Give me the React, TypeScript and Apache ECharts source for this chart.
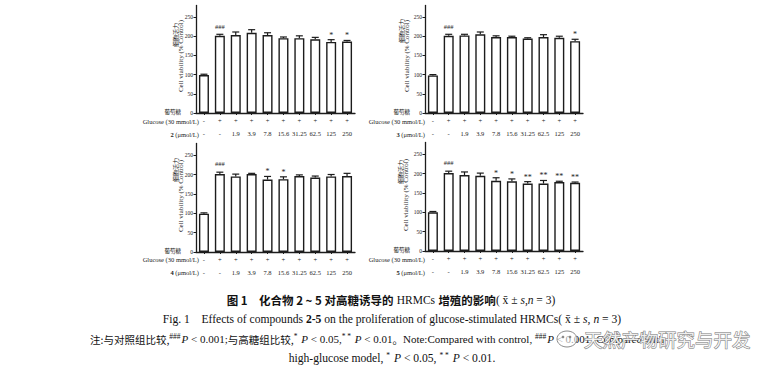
import React, { useEffect, useRef } from 'react';
import * as echarts from 'echarts';

const glucoseRow = ['-', '+', '+', '+', '+', '+', '+', '+', '+', '+'];
const concRow = ['-', '-', '1.9', '3.9', '7.8', '15.6', '31.25', '62.5', '125', '250'];
const yTicks = [0, 50, 100, 150, 200, 250];
const compounds = ['2', '3', '4', '5'];

const c2Mean = [99, 201, 203, 209, 203, 195, 195, 192, 185, 186];
const c2Sd = [2, 4, 8, 8, 6, 3, 6, 5, 6, 3];
const c2Sig = ['', '###', '', '', '', '', '', '', '*', '*'];

const c3Mean = [98, 201, 202, 205, 198, 198, 194, 198, 196, 187];
const c3Sd = [2, 4, 3, 6, 3, 2, 2, 6, 4, 5];
const c3Sig = ['', '###', '', '', '', '', '', '', '', '*'];

const c4Mean = [99, 201, 195, 201, 187, 188, 196, 192, 195, 196];
const c4Sd = [2, 5, 6, 2, 8, 6, 3, 4, 5, 7];
const c4Sig = ['', '###', '', '', '*', '*', '', '', '', ''];

const c5Mean = [100, 201, 196, 194, 181, 180, 174, 174, 178, 176];
const c5Sd = [2, 5, 8, 7, 8, 6, 5, 8, 2, 2];
const c5Sig = ['', '###', '', '', '*', '*', '**', '**', '**', '**'];

const means = [c2Mean, c3Mean, c4Mean, c5Mean];
const sds = [c2Sd, c3Sd, c4Sd, c5Sd];
const sigs = [c2Sig, c3Sig, c4Sig, c5Sig];

const SERIF = '"Liberation Serif", "Times New Roman", "Noto Sans CJK SC", serif';
const CJK = '"Noto Sans CJK SC", sans-serif';
const INK = '#1c1c1c';

// layout of the four panels
const grids = [
  { left: 196, top: 5.5, width: 159, height: 107.5 },
  { left: 425, top: 5.5, width: 158, height: 107.5 },
  { left: 196, top: 143.5, width: 159, height: 108.5 },
  { left: 425, top: 142.5, width: 158, height: 108.5 },
];
const yNamePos = [
  { cnX: 175, enX: 181, cnY: 35, enY: 56 },
  { cnX: 401, enX: 407, cnY: 31, enY: 56 },
  { cnX: 175, enX: 181, cnY: 170, enY: 196 },
  { cnX: 400, enX: 406, cnY: 172, enY: 195 },
];
const rowLabelPos = [
  { rx: 199, cnX: 181, z: 112, gy: 121, cy: 134 },
  { rx: 425, cnX: 410, z: 112, gy: 121, cy: 134 },
  { rx: 199, cnX: 181, z: 250.5, gy: 259, cy: 272 },
  { rx: 425, cnX: 410, z: 250, gy: 259, cy: 272 },
];

export default function App() {
  const ref = useRef<HTMLDivElement>(null);
  useEffect(() => {
    document.body.style.margin = '0';
    if (!ref.current) return;
    const chart = echarts.init(ref.current, undefined, { renderer: 'svg' });

    const xAxes: any[] = [];
    const yAxes: any[] = [];
    const series: any[] = [];
    const graphics: any[] = [];

    grids.forEach((g, i) => {
      xAxes.push({
        type: 'category',
        gridIndex: i,
        data: concRow,
        axisLine: { lineStyle: { color: INK, width: 1.3 } },
        axisTick: { show: true, alignWithLabel: true, length: 2, lineStyle: { color: INK, width: 1 } },
        axisLabel: {
          margin: 1,
          interval: 0,
          formatter: (_v: string, idx: number) => `{g|${glucoseRow[idx]}}\n{c|${concRow[idx]}}`,
          rich: {
            g: { fontSize: 6.5, lineHeight: 13, fontFamily: SERIF, color: INK },
            c: { fontSize: 6.5, lineHeight: 13, fontFamily: SERIF, color: INK },
          },
        },
      });
      yAxes.push({
        type: 'value',
        gridIndex: i,
        min: 0,
        max: 280,
        interval: 50,
        splitLine: { show: false },
        axisLine: { show: true, lineStyle: { color: INK, width: 1.3 } },
        axisTick: { show: true, length: 2.5, customValues: yTicks, lineStyle: { color: INK, width: 1 } },
        axisLabel: { customValues: yTicks, fontSize: 5.5, margin: 3, fontFamily: SERIF, color: INK },
      });
      series.push({
        type: 'bar',
        xAxisIndex: i,
        yAxisIndex: i,
        data: means[i],
        barWidth: 10,
        itemStyle: { color: '#fff', borderColor: INK, borderWidth: 1.4 },
        z: 2,
      });
      const sig = sigs[i];
      series.push({
        type: 'custom',
        xAxisIndex: i,
        yAxisIndex: i,
        z: 3,
        clip: false,
        data: means[i].map((m, j) => [j, m, m + sds[i][j]]),
        encode: { x: 0, y: [1, 2] },
        renderItem: (params: any, api: any) => {
          const x = api.value(0);
          const top = api.coord([x, api.value(1)]);
          const hi = api.coord([x, api.value(2)]);
          const s = sig[params.dataIndex];
          const children: any[] = [
            { type: 'line', shape: { x1: top[0], y1: top[1], x2: hi[0], y2: hi[1] }, style: { stroke: INK, lineWidth: 1.2 } },
            { type: 'line', shape: { x1: hi[0] - 3.5, y1: hi[1], x2: hi[0] + 3.5, y2: hi[1] }, style: { stroke: INK, lineWidth: 1.2 } },
          ];
          if (s) {
            const isHash = s.indexOf('#') >= 0;
            children.push({
              type: 'text',
              x: hi[0],
              y: hi[1] - (isHash ? 5 : 0.5),
              style: {
                text: s,
                fontSize: isHash ? 6.5 : 8,
                fontFamily: SERIF,
                fill: INK,
                align: 'center',
                verticalAlign: 'bottom',
              },
            });
          }
          return { type: 'group', children };
        },
      });

      const yn = yNamePos[i];
      graphics.push({
        type: 'text', x: yn.cnX, y: yn.cnY, rotation: Math.PI / 2,
        style: { text: '细胞活力', fontSize: 6, fontFamily: CJK, fill: INK, align: 'center', verticalAlign: 'middle' },
      });
      graphics.push({
        type: 'text', x: yn.enX, y: yn.enY, rotation: Math.PI / 2,
        style: { text: 'Cell viability (% Control)', fontSize: 7, fontFamily: SERIF, fill: INK, align: 'center', verticalAlign: 'middle' },
      });
      const rl = rowLabelPos[i];
      graphics.push({
        type: 'text', x: rl.cnX, y: rl.z,
        style: { text: '葡萄糖', fontSize: 5.5, fontFamily: CJK, fill: INK, align: 'right', verticalAlign: 'middle' },
      });
      graphics.push({
        type: 'text', x: rl.rx, y: rl.gy,
        style: { text: 'Glucose (30 mmol/L)', fontSize: 6.5, fontFamily: SERIF, fill: INK, align: 'right', verticalAlign: 'middle' },
      });
      graphics.push({
        type: 'text', x: rl.rx, y: rl.cy,
        style: {
          text: `{b|${compounds[i]}} (μmol/L)`,
          fontSize: 6.5, fontFamily: SERIF, fill: INK, align: 'right', verticalAlign: 'middle',
          rich: { b: { fontSize: 6.5, fontWeight: 'bold', fontFamily: SERIF, fill: INK } },
        },
      });
    });

    // captions
    graphics.push({
      type: 'text', x: 391, y: 300,
      style: {
        text: '{h|图 1　化合物 2 ~ 5 对高糖诱导的} {r|HRMCs} {h|增殖的影响}{r|(}{r| x̄ ± }{i|s}{r|,}{i|n}{r| = 3)}',
        align: 'center', verticalAlign: 'middle',
        rich: {
          h: { fontSize: 11.5, fontFamily: CJK, fontWeight: 'bold', fill: '#111' },
          r: { fontSize: 11.5, fontFamily: SERIF, fill: '#111' },
          i: { fontSize: 11.5, fontFamily: SERIF, fontStyle: 'italic', fill: '#111' },
        },
      },
    });
    graphics.push({
      type: 'text', x: 392, y: 319,
      style: {
        text: '{r|Fig. 1    Effects of compounds }{b|2-5}{r| on the proliferation of glucose-stimulated HRMCs( x̄ ± }{i|s}{r|, }{i|n}{r| = 3)}',
        align: 'center', verticalAlign: 'middle',
        rich: {
          r: { fontSize: 11.6, fontFamily: SERIF, fill: '#111' },
          b: { fontSize: 11.6, fontFamily: SERIF, fontWeight: 'bold', fill: '#111' },
          i: { fontSize: 11.6, fontFamily: SERIF, fontStyle: 'italic', fill: '#111' },
        },
      },
    });
    graphics.push({
      type: 'text', x: 90, y: 339,
      style: {
        text: '{c|注:与对照组比较,}{s|###}{i|P}{r| < 0.001;}{c|与高糖组比较,}{s|*}{i| P}{r| < 0.05,}{s|* *}{i| P}{r| < 0.01}{c|。}{r|Note:Compared with control, }{s|###}{i|P}{r| < 0.001; Compared with}',
        align: 'left', verticalAlign: 'middle',
        rich: {
          c: { fontSize: 10.5, fontFamily: CJK, fill: '#111' },
          r: { fontSize: 11, fontFamily: SERIF, fill: '#111' },
          i: { fontSize: 11, fontFamily: SERIF, fontStyle: 'italic', fill: '#111' },
          s: { fontSize: 7.5, fontFamily: SERIF, fill: '#111', padding: [0, 1, 5, 0] },
        },
      },
    });
    graphics.push({
      type: 'text', x: 392, y: 358,
      style: {
        text: '{r|high-glucose model, }{s|*}{i| P}{r| < 0.05, }{s|* *}{i| P}{r| < 0.01.}',
        align: 'center', verticalAlign: 'middle',
        rich: {
          r: { fontSize: 11.6, fontFamily: SERIF, fill: '#111' },
          i: { fontSize: 11.6, fontFamily: SERIF, fontStyle: 'italic', fill: '#111' },
          s: { fontSize: 7.5, fontFamily: SERIF, fill: '#111', padding: [0, 1, 5, 0] },
        },
      },
    });
    // watermark
    graphics.push({
      type: 'ellipse', shape: { cx: 567, cy: 339, rx: 10, ry: 8 },
      style: { fill: 'rgba(255,255,255,0.6)', stroke: '#8a8a8a', lineWidth: 1 }, z: 10,
    });
    graphics.push({
      type: 'circle', shape: { cx: 563, cy: 337, r: 1.3 }, style: { fill: '#8a8a8a' }, z: 10,
    });
    graphics.push({
      type: 'circle', shape: { cx: 570, cy: 337, r: 1.3 }, style: { fill: '#8a8a8a' }, z: 10,
    });
    graphics.push({
      type: 'text', x: 584, y: 339, z: 10,
      style: {
        text: '天然产物研究与开发', fontSize: 18.5, fontFamily: CJK,
        fill: 'rgba(255,255,255,0.85)', stroke: '#7a7a7a', lineWidth: 1,
        align: 'left', verticalAlign: 'middle',
      },
    });

    chart.setOption({
      animation: false,
      backgroundColor: '#fff',
      grid: grids.map((g) => ({ ...g, containLabel: false })),
      xAxis: xAxes,
      yAxis: yAxes,
      series,
      graphic: { elements: graphics },
    });
    return () => chart.dispose();
  }, []);
  return <div ref={ref} style={{ width: 779, height: 369 }} />;
}
